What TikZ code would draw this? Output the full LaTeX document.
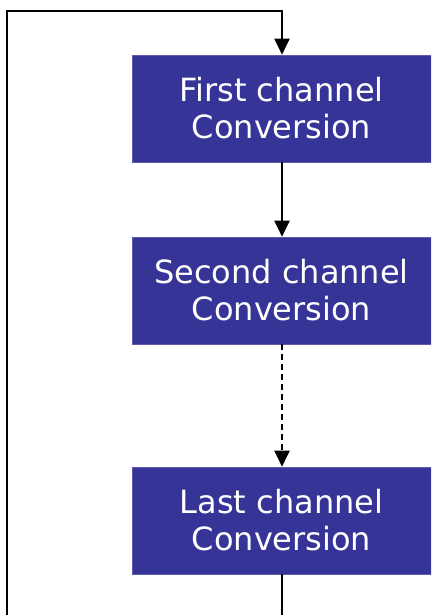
\documentclass[tikz,border=0pt]{standalone}
\usepackage{fontspec}
\setmainfont{DejaVu Sans}
\usetikzlibrary{arrows.meta}
\definecolor{boxblue}{RGB}{54,52,150}
\begin{document}
\begin{tikzpicture}[x=1pt,y=-1pt,
  convbox/.style={fill=boxblue,draw=boxblue!80!white,line width=0.6pt,text=white,
    minimum width=299pt,minimum height=107pt,inner sep=0pt,align=center,
    font=\fontsize{32}{37}\selectfont},
  link/.style={line width=2pt,-{Triangle[width=15pt,length=16pt]}},
  plain/.style={line width=2pt}]
\useasboundingbox (0,0) rectangle (431,615);
\clip (0,0) rectangle (431,615);
\node[convbox] (first) at (281.5,108.5) {First channel\\Conversion};
\node[convbox] (second) at (281.5,290.5) {Second channel\\Conversion};
\node[convbox] (last) at (281.5,520.5) {Last channel\\Conversion};
\coordinate (bl) at (7,620);
\coordinate (br) at (282,620);
\coordinate (tr) at (282,11);
\draw[link] (first.south -| tr) -- (second.north -| tr);
\draw[link,dash pattern=on 6pt off 4pt] (second.south -| tr) -- (last.north -| tr);
\draw[plain] (last.south -| br) -- (br);
\draw[link] (bl) |- (tr) -- (first.north -| tr);
\end{tikzpicture}
\end{document}
